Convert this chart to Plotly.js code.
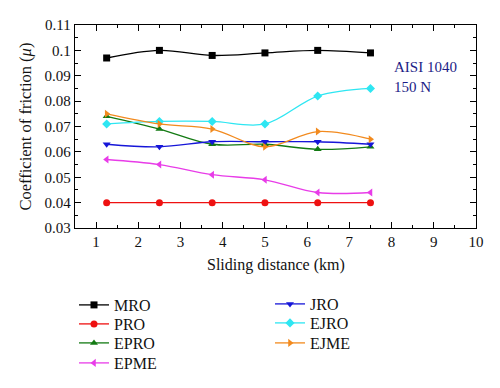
<!DOCTYPE html>
<html>
<head>
<meta charset="utf-8">
<script src="https://cdn.plot.ly/plotly-3.0.1.min.js"></script>
<style>html,body{margin:0;padding:0;background:#fff;}#chart{width:500px;height:388px;}</style>
</head>
<body>
<div id="chart"></div>
<script>
var distance = [1.25, 2.5, 3.75, 5, 6.25, 7.5];
var MRO  = [0.097, 0.100, 0.098, 0.099, 0.100, 0.099];
var PRO  = [0.040, 0.040, 0.040, 0.040, 0.040, 0.040];
var EPRO = [0.074, 0.069, 0.063, 0.063, 0.061, 0.062];
var EPME = [0.057, 0.055, 0.051, 0.049, 0.044, 0.044];
var JRO  = [0.063, 0.062, 0.064, 0.064, 0.064, 0.063];
var EJRO = [0.071, 0.072, 0.072, 0.071, 0.082, 0.085];
var EJME = [0.075, 0.071, 0.069, 0.062, 0.068, 0.065];
var xTicks = [1, 2, 3, 4, 5, 6, 7, 8, 9, 10];
var yTicks = [0.03, 0.04, 0.05, 0.06, 0.07, 0.08, 0.09, 0.1, 0.11];
var yTickText = ["0.03", "0.04", "0.05", "0.06", "0.07", "0.08", "0.09", "0.1", "0.11"];
var xTitle = "Sliding distance (km)";
var yTitle = "Coefficient of friction (<i>μ</i>)";

var font = "Liberation Serif, DejaVu Serif, serif";
var series = [
  {name: "MRO",  y: MRO,  color: "#000000", symbol: "square"},
  {name: "PRO",  y: PRO,  color: "#ee1111", symbol: "circle"},
  {name: "EPRO", y: EPRO, color: "#137a13", symbol: "triangle-up"},
  {name: "EPME", y: EPME, color: "#e83ce8", symbol: "triangle-left"},
  {name: "JRO",  y: JRO,  color: "#1616d8", symbol: "triangle-down"},
  {name: "EJRO", y: EJRO, color: "#2ee6f2", symbol: "diamond"},
  {name: "EJME", y: EJME, color: "#f28a1e", symbol: "triangle-right"}
];
// legend slot per series: column left px, row centre px
var legendPos = [[74, 305], [74, 324], [74, 343], [74, 363], [270, 304], [270, 323], [270, 343]];

var data = series.map(function (s, i) {
  return {
    x: distance, y: s.y, name: s.name, type: "scatter", mode: "lines+markers",
    line: {color: s.color, width: 1.3, shape: "spline", smoothing: 1},
    marker: {color: s.color, symbol: s.symbol, size: 7},
    legend: i === 0 ? "legend" : "legend" + (i + 1)
  };
});
var axisCommon = {
  showline: true, linecolor: "#000", linewidth: 1.2, mirror: "ticks",
  ticks: "inside", ticklen: 6, tickcolor: "#000", showgrid: false, zeroline: false,
  automargin: false,
  tickfont: {family: font, size: 15, color: "#111"}
};
var layout = {
  width: 500, height: 388,
  margin: {l: 75, r: 24, t: 25, b: 160, autoexpand: false},
  paper_bgcolor: "#fff", plot_bgcolor: "#fff",
  font: {family: font, color: "#111"},
  xaxis: Object.assign({}, axisCommon, {
    range: [0.5, 10], tickvals: xTicks,
    minor: {dtick: 0.5, ticks: "inside", ticklen: 3, tickcolor: "#000"}
  }),
  yaxis: Object.assign({}, axisCommon, {
    range: [0.03, 0.11], tickvals: yTicks, ticktext: yTickText,
    minor: {dtick: 0.005, ticks: "inside", ticklen: 3, tickcolor: "#000"}
  }),
  showlegend: true,
  annotations: [{
    xref: "paper", yref: "paper", x: (392 - 75) / 401, y: (228 - 57) / 203,
    xanchor: "left", yanchor: "top", align: "left", showarrow: false,
    text: "AISI 1040<br>150 N", font: {family: font, size: 15, color: "#1c1c86"}
  }, {
    xref: "paper", yref: "paper", x: 0.5, y: (228 - 265) / 203,
    xanchor: "center", yanchor: "middle", showarrow: false,
    text: xTitle, font: {family: font, size: 16, color: "#111"}
  }, {
    xref: "paper", yref: "paper", x: (25 - 75) / 401, y: 0.5,
    xanchor: "center", yanchor: "middle", showarrow: false, textangle: -90,
    text: yTitle, font: {family: font, size: 16.5, color: "#111"}
  }]
};
legendPos.forEach(function (p, i) {
  layout[i === 0 ? "legend" : "legend" + (i + 1)] = {
    xref: "container", yref: "container",
    x: p[0] / 500, y: 1 - p[1] / 388, xanchor: "left", yanchor: "middle",
    bgcolor: "rgba(0,0,0,0)", borderwidth: 0,
    font: {family: font, size: 16, color: "#111"}
  };
});
Plotly.newPlot("chart", data, layout, {displayModeBar: false, staticPlot: true});
</script>
</body>
</html>
